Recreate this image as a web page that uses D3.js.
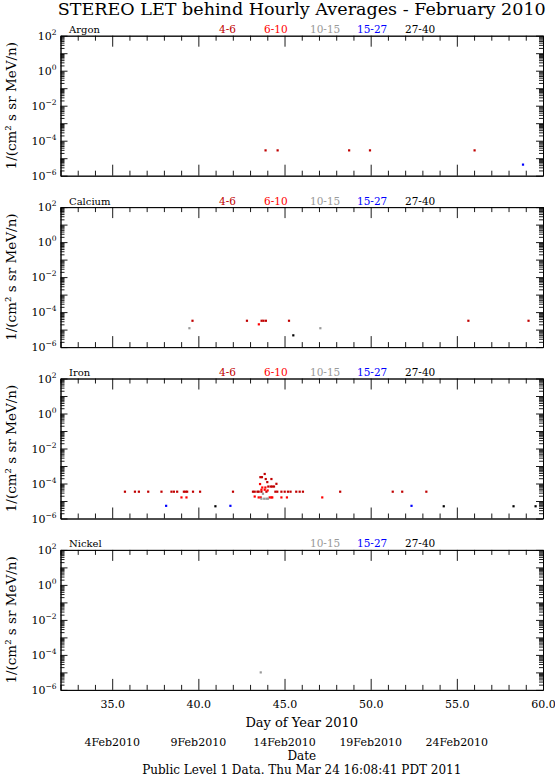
<!DOCTYPE html>
<html>
<head>
<meta charset="utf-8">
<script src="https://cdn.jsdelivr.net/npm/d3@7"></script>
<style>
	body { margin: 0; background: #fff; }
	svg { display: block; }
	text { font-family: "DejaVu Serif", serif; }
</style>
</head>
<body>
<div id="chart"></div>
<script>

// ---- data ----
const elements = ["Argon", "Calcium", "Iron", "Nickel"];
const energyBins = ["4-6", "6-10", "10-15", "15-27", "27-40"];
const binColors = ["#c00000", "#ff0000", "#999999", "#0000ff", "#000000"];
// nickel has no 4-6 / 6-10 entry in its legend
const legendBins = [energyBins, energyBins, energyBins, ["10-15", "15-27", "27-40"]];

const dayTicks = [35, 40, 45, 50, 55, 60];
const dateDays = [35, 40, 45, 50, 55];
const dateLabels = ["4Feb2010", "9Feb2010", "14Feb2010", "19Feb2010", "24Feb2010"];
const decadeLabels = [2, 0, -2, -4, -6];

// [day of year, flux, energy bin]
const argonPoints = [
	[43.90, 2.8e-5, "4-6"], [44.60, 2.8e-5, "4-6"], [48.75, 2.8e-5, "4-6"],
	[49.96, 2.8e-5, "4-6"], [56.03, 2.8e-5, "4-6"],
	[58.84, 4.3e-6, "15-27"]
];
const calciumPoints = [
	[39.66, 3.2e-5, "4-6"], [42.82, 3.2e-5, "4-6"], [43.67, 3.2e-5, "4-6"],
	[43.78, 3.2e-5, "4-6"], [43.92, 3.2e-5, "4-6"], [45.26, 3.2e-5, "4-6"],
	[55.67, 3.2e-5, "4-6"], [59.16, 3.2e-5, "4-6"],
	[43.51, 2.0e-5, "6-10"],
	[39.48, 1.2e-5, "10-15"], [47.08, 1.2e-5, "10-15"],
	[45.51, 4.7e-6, "27-40"]
];
const ironPoints = [
	// 4-6 row
	[35.74, 3.4e-5, "4-6"], [36.32, 3.4e-5, "4-6"], [36.55, 3.4e-5, "4-6"], [37.09, 3.4e-5, "4-6"],
	[37.86, 3.4e-5, "4-6"], [38.44, 3.4e-5, "4-6"], [38.58, 3.4e-5, "4-6"], [38.77, 3.4e-5, "4-6"],
	[39.16, 3.4e-5, "4-6"], [39.26, 3.4e-5, "4-6"], [39.35, 3.4e-5, "4-6"], [39.69, 3.4e-5, "4-6"],
	[40.10, 3.4e-5, "4-6"], [42.01, 3.4e-5, "4-6"], [43.17, 3.4e-5, "4-6"], [43.27, 3.4e-5, "4-6"],
	[43.43, 3.4e-5, "4-6"], [43.50, 3.4e-5, "4-6"], [43.66, 3.4e-5, "4-6"], [43.95, 3.4e-5, "4-6"],
	[44.47, 3.4e-5, "4-6"], [44.58, 3.4e-5, "4-6"], [44.82, 3.4e-5, "4-6"], [45.01, 3.4e-5, "4-6"],
	[45.20, 3.4e-5, "4-6"], [45.35, 3.4e-5, "4-6"], [45.68, 3.4e-5, "4-6"], [45.88, 3.4e-5, "4-6"],
	[46.07, 3.4e-5, "4-6"], [48.23, 3.4e-5, "4-6"], [51.28, 3.4e-5, "4-6"], [51.83, 3.4e-5, "4-6"],
	[53.23, 3.4e-5, "4-6"],
	// event around day 44
	[43.85, 3.5e-4, "4-6"], [43.60, 2.3e-4, "4-6"], [43.69, 2.3e-4, "4-6"], [43.91, 1.8e-4, "4-6"],
	[44.24, 1.8e-4, "4-6"], [44.00, 1.2e-4, "4-6"], [44.53, 9.6e-5, "4-6"], [44.06, 6.7e-5, "4-6"],
	[44.20, 6.7e-5, "4-6"], [44.29, 6.7e-5, "4-6"], [44.39, 6.7e-5, "4-6"],
	[43.58, 9.3e-5, "6-10"], [43.71, 5.9e-5, "6-10"], [43.89, 5.9e-5, "6-10"], [43.66, 4.4e-5, "6-10"],
	[43.85, 4.4e-5, "6-10"], [44.02, 4.0e-5, "6-10"], [43.27, 1.8e-5, "6-10"],
	// 6-10 row
	[39.02, 1.6e-5, "6-10"], [39.31, 1.6e-5, "6-10"], [43.50, 1.6e-5, "6-10"], [43.62, 1.6e-5, "6-10"],
	[44.14, 1.6e-5, "6-10"], [44.24, 1.6e-5, "6-10"], [44.29, 1.6e-5, "6-10"], [44.82, 1.6e-5, "6-10"],
	[45.14, 1.6e-5, "6-10"], [47.19, 1.6e-5, "6-10"],
	// 10-15
	[43.75, 2.6e-5, "10-15"], [43.66, 1.35e-5, "10-15"], [43.82, 1.35e-5, "10-15"],
	[43.95, 1.35e-5, "10-15"], [44.04, 1.35e-5, "10-15"],
	// 15-27
	[38.13, 5.3e-6, "15-27"], [41.86, 5.3e-6, "15-27"], [52.37, 5.3e-6, "15-27"],
	// 27-40
	[40.99, 5.0e-6, "27-40"], [54.24, 5.0e-6, "27-40"], [58.29, 5.0e-6, "27-40"], [59.57, 5.0e-6, "27-40"]
];
const nickelPoints = [
	[43.62, 1.0e-5, "10-15"]
];
const panelPoints = [argonPoints, calciumPoints, ironPoints, nickelPoints];

// ---- layout ----
var
	width = 555,
	height = 777,
	left = 60.5,
	right = 543,
	panelTop = 35.7,
	panelH = 140,
	panelStep = 171.4,

	color = d3.scaleOrdinal().domain(energyBins).range(binColors),

	x = d3.scaleLinear().domain([32, 60]).range([left, right]),

	svg = d3.select("#chart")
		.append("svg")
		.attr("width", width)
		.attr("height", height);

var minorDays = d3.range(32, 61).filter(d => d % 5 !== 0),
	decades = d3.range(-6, 3),
	minorFlux = [];
decades.slice(0, -1).forEach(e => {
	for (let m = 2; m < 10; m++) minorFlux.push(m * Math.pow(10, e));
});

svg.append("text")
	.attr("x", (left + right) / 2)
	.attr("y", 15)
	.attr("text-anchor", "middle")
	.attr("font-size", 16.5)
	.attr("textLength", 488)
	.attr("lengthAdjust", "spacingAndGlyphs")
	.text("STEREO LET behind Hourly Averages - February 2010");

function styleAxis(g) {
	g.attr("font-family", null).attr("font-size", null);
	g.selectAll("path, line").attr("stroke", "#000").attr("stroke-width", 0.9);
}

elements.forEach((name, i) => {
	var top = panelTop + i * panelStep,
		bottom = top + panelH,
		last = i === elements.length - 1,
		y = d3.scaleLog().domain([1e-6, 1e2]).range([bottom, top]),
		g = svg.append("g");

	// x axes, bottom and top, ticks pointing in
	g.append("g").attr("transform", `translate(0,${bottom})`)
		.call(d3.axisBottom(x).tickValues(minorDays).tickSize(-5).tickSizeOuter(0).tickFormat(""))
		.call(styleAxis);
	g.append("g").attr("transform", `translate(0,${bottom})`)
		.call(d3.axisBottom(x).tickValues(dayTicks).tickSize(-11).tickSizeOuter(0).tickPadding(10)
			.tickFormat(last ? d3.format(".1f") : ""))
		.call(styleAxis)
		.call(a => a.selectAll("text").attr("font-size", 11).attr("fill", "#000"));
	g.append("g").attr("transform", `translate(0,${top})`)
		.call(d3.axisTop(x).tickValues(minorDays).tickSize(-5).tickSizeOuter(0).tickFormat(""))
		.call(styleAxis);
	g.append("g").attr("transform", `translate(0,${top})`)
		.call(d3.axisTop(x).tickValues(dayTicks).tickSize(-11).tickSizeOuter(0).tickFormat(""))
		.call(styleAxis);

	// y axes, left and right
	[[d3.axisLeft, left], [d3.axisRight, right]].forEach(([axis, px]) => {
		g.append("g").attr("transform", `translate(${px},0)`)
			.call(axis(y).tickValues(minorFlux).tickSize(-4).tickSizeOuter(0).tickFormat(""))
			.call(styleAxis);
		g.append("g").attr("transform", `translate(${px},0)`)
			.call(axis(y).tickValues(decades.map(e => Math.pow(10, e))).tickSize(-7).tickSizeOuter(0).tickFormat(""))
			.call(styleAxis);
	});

	// decade labels 10^n
	g.selectAll(".ylab")
		.data(decadeLabels)
		.join("text")
		.attr("x", left - 4)
		.attr("y", e => y(Math.pow(10, e)) + 4)
		.attr("text-anchor", "end")
		.attr("font-size", 11)
		.call(t => {
			t.append("tspan").text("10");
			t.append("tspan").attr("dy", -5).attr("font-size", 7.5).text(e => e < 0 ? "\u2212" + (-e) : e);
		});

	g.append("text")
		.attr("transform", `translate(16,${(top + bottom) / 2}) rotate(-90)`)
		.attr("text-anchor", "middle")
		.attr("font-size", 13.5)
		.text("1/(cm\u00b2 s sr MeV/n)");

	g.append("text")
		.attr("x", 69)
		.attr("y", top - 2.5)
		.attr("font-size", 10)
		.text(name);

	g.selectAll(".leg")
		.data(legendBins[i])
		.join("text")
		.attr("x", d => [219, 264, 310, 357, 405][energyBins.indexOf(d)])
		.attr("y", top - 2.5)
		.attr("font-size", 10.5)
		.attr("fill", d => color(d))
		.text(d => d);

	g.selectAll(".pt")
		.data(panelPoints[i])
		.join("rect")
		.attr("x", d => x(d[0]) - 1.1)
		.attr("y", d => y(d[1]) - 1.1)
		.attr("width", 2.2)
		.attr("height", 2.2)
		.attr("fill", d => color(d[2]));
});

svg.append("text")
	.attr("x", (left + right) / 2)
	.attr("y", 727)
	.attr("text-anchor", "middle")
	.attr("font-size", 13)
	.text("Day of Year 2010");

svg.selectAll(".date")
	.data(dateDays)
	.join("text")
	.attr("x", d => x(d))
	.attr("y", 746)
	.attr("text-anchor", "middle")
	.attr("font-size", 11)
	.text((d, i) => dateLabels[i]);

svg.append("text")
	.attr("x", (left + right) / 2)
	.attr("y", 760)
	.attr("text-anchor", "middle")
	.attr("font-size", 12)
	.text("Date");

svg.append("text")
	.attr("x", (left + right) / 2)
	.attr("y", 774)
	.attr("text-anchor", "middle")
	.attr("font-size", 12)
	.text("Public Level 1 Data. Thu Mar 24 16:08:41 PDT 2011");

</script>
</body>
</html>
